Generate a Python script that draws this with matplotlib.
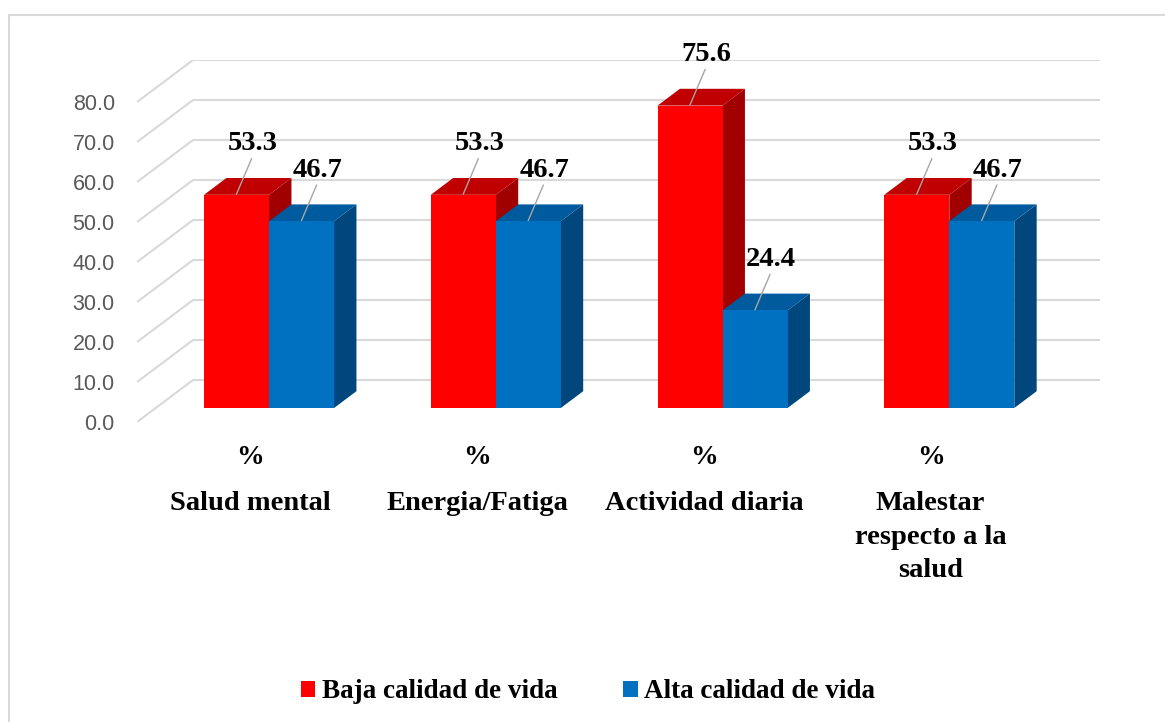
import matplotlib
matplotlib.use('Agg')
import matplotlib.pyplot as plt
from matplotlib.patches import Polygon, Rectangle, Patch

# datos del gráfico
categorias = ['Salud mental', 'Energia/Fatiga', 'Actividad diaria', 'Malestar\nrespecto a la\nsalud']
baja = [53.3, 53.3, 75.6, 53.3]
alta = [46.7, 46.7, 24.4, 46.7]
series = ['Baja calidad de vida', 'Alta calidad de vida']
ticks = [0, 10, 20, 30, 40, 50, 60, 70, 80]

# colores: frente, tapa, lado
col_rojo = ('#FF0000', '#C00000', '#A00000')
col_azul = ('#0070C0', '#005A9E', '#00477E')

W, H = 1165, 722
fig = plt.figure(figsize=(W / 100, H / 100), dpi=100)
ax = fig.add_axes([137 / W, 1 - 422 / H, (1100 - 137) / W, (422 - 60) / H])

# profundidad del efecto 3D (en unidades de datos)
dxu = 56 / 226.75
dyu = 10.5
xmax = 3.5 + dxu
ax.set_xlim(-0.5, xmax)
ax.set_ylim(0, 90.5)
for s in ax.spines.values():
    s.set_visible(False)
ax.set_xticks([])
ax.set_yticks(ticks)
ax.set_yticklabels(['%.1f' % t for t in ticks], fontsize=15.5, color='#595959',
                   family='Liberation Sans')
ax.tick_params(axis='y', length=0, pad=16)

# lineas de cuadrícula en perspectiva
for t in ticks:
    ax.plot([-0.5, -0.5 + dxu, xmax], [t, t + dyu, t + dyu], color='#D9D9D9', lw=1.5,
            zorder=1, solid_capstyle='butt')

w = 65 / 226.75
f = 1 / 3.0        # posición del frente de la barra en profundidad
d = 0.4            # profundidad de la barra
fx, fy = f * dxu, f * dyu
ddx, ddy = d * dxu, d * dyu

def barra(x0, v, cols):
    x1 = x0 + w
    y0 = fy
    top = v + fy
    ax.add_patch(Polygon([(x1, y0), (x1 + ddx, y0 + ddy), (x1 + ddx, top + ddy), (x1, top)],
                         closed=True, facecolor=cols[2], edgecolor='none', zorder=3))
    ax.add_patch(Polygon([(x0, top), (x1, top), (x1 + ddx, top + ddy), (x0 + ddx, top + ddy)],
                         closed=True, facecolor=cols[1], edgecolor='none', zorder=3))
    ax.add_patch(Rectangle((x0, y0), w, v, facecolor=cols[0], edgecolor='none', zorder=3))
    cx = x0 + w / 2
    ax.plot([cx + 15 / 226.75, cx], [top + 9, top + 0.2], color='#A6A6A6', lw=1, zorder=4)
    ax.text(cx + 16 / 226.75, top + 12.7, '%.1f' % v, ha='center', va='center',
            fontsize=20.5, fontweight='bold', family='Liberation Serif', zorder=5)

for i in range(len(categorias)):
    barra(i - w + fx, baja[i], col_rojo)
    barra(i + fx, alta[i], col_azul)
    ax.text(i, -8.75, '%', ha='center', va='center', fontsize=20, fontweight='bold',
            family='Liberation Serif', clip_on=False)
    ax.text(i, -17.3, categorias[i], ha='center', va='top', fontsize=20.5, fontweight='bold',
            family='Liberation Serif', linespacing=1.45, clip_on=False)

# leyenda
handles = [Patch(facecolor=col_rojo[0]), Patch(facecolor=col_azul[0])]
fig.legend(handles, series, loc='center', bbox_to_anchor=(588 / W, 1 - 692 / H), ncol=2,
           frameon=False, handlelength=0.55, handleheight=0.55, handletextpad=0.25,
           columnspacing=2.4, prop={'family': 'Liberation Serif', 'weight': 'bold', 'size': 19.5})

# marco exterior
fig.patches.append(Rectangle((9 / W, -0.1), 1.2, 1.1 - 15 / H, transform=fig.transFigure,
                             fill=False, edgecolor='#D9D9D9', lw=1.5))

fig.savefig('out.png', dpi=100)
